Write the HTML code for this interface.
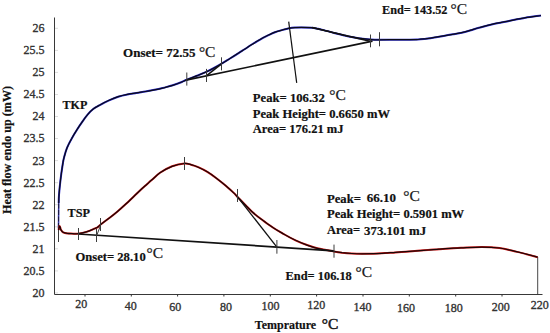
<!DOCTYPE html>
<html><head><meta charset="utf-8"><title>DSC thermogram</title>
<style>
html,body{margin:0;padding:0;background:#fff;}
body{width:550px;height:333px;overflow:hidden;}
svg{display:block;font-family:"Liberation Serif",serif;}
.b{font-weight:bold;font-size:12.5px;fill:#111;stroke:#111;stroke-width:0.2;}
.t{font-size:12px;fill:#333;stroke:#333;stroke-width:0.35;}
.c{font-size:15.5px;fill:#1a1a1a;font-weight:normal;stroke:#1a1a1a;stroke-width:0.25;}
.k{stroke:#111;stroke-width:1.5;fill:none;}
.tk{stroke:#3c3c3c;stroke-width:1;fill:none;}
</style></head><body>
<svg width="550" height="333" viewBox="0 0 550 333">
<rect width="550" height="333" fill="#fff"/>
<path d="M54.5 17.5V294.5H542.5" stroke="#383838" stroke-width="1" fill="none"/>
<path d="M85.0 294.5v2" stroke="#333" stroke-width="1" fill="none"/>
<text class="t" x="81.3" y="307.7" text-anchor="middle">20</text>
<path d="M131.3 294.5v2" stroke="#333" stroke-width="1" fill="none"/>
<text class="t" x="130.8" y="310.2" text-anchor="middle">40</text>
<path d="M177.6 294.5v2" stroke="#333" stroke-width="1" fill="none"/>
<text class="t" x="175.3" y="310.7" text-anchor="middle">60</text>
<path d="M223.9 294.5v2" stroke="#333" stroke-width="1" fill="none"/>
<text class="t" x="226.0" y="310.7" text-anchor="middle">80</text>
<path d="M270.3 294.5v2" stroke="#333" stroke-width="1" fill="none"/>
<text class="t" x="270.4" y="309.8" text-anchor="middle">100</text>
<path d="M316.6 294.5v2" stroke="#333" stroke-width="1" fill="none"/>
<text class="t" x="316.2" y="309.0" text-anchor="middle">120</text>
<path d="M363.0 294.5v2" stroke="#333" stroke-width="1" fill="none"/>
<text class="t" x="362.5" y="311.0" text-anchor="middle">140</text>
<path d="M409.3 294.5v2" stroke="#333" stroke-width="1" fill="none"/>
<text class="t" x="406.0" y="311.5" text-anchor="middle">160</text>
<path d="M455.7 294.5v2" stroke="#333" stroke-width="1" fill="none"/>
<text class="t" x="453.8" y="312.3" text-anchor="middle">180</text>
<path d="M502.0 294.5v2" stroke="#333" stroke-width="1" fill="none"/>
<text class="t" x="500.8" y="310.6" text-anchor="middle">200</text>
<text class="t" x="539.8" y="309.0" text-anchor="middle">220</text>
<text class="t" x="44.5" y="32.2" text-anchor="end">26</text>
<path d="M55 28.3h3" stroke="#dcdcdc" stroke-width="1"/>
<text class="t" x="44.5" y="54.2" text-anchor="end">25.5</text>
<path d="M55 50.4h3" stroke="#dcdcdc" stroke-width="1"/>
<text class="t" x="44.5" y="76.3" text-anchor="end">25</text>
<path d="M55 72.4h3" stroke="#dcdcdc" stroke-width="1"/>
<text class="t" x="44.5" y="98.4" text-anchor="end">24.5</text>
<path d="M55 94.5h3" stroke="#dcdcdc" stroke-width="1"/>
<text class="t" x="44.5" y="120.4" text-anchor="end">24</text>
<path d="M55 116.5h3" stroke="#dcdcdc" stroke-width="1"/>
<text class="t" x="44.5" y="142.4" text-anchor="end">23.5</text>
<path d="M55 138.5h3" stroke="#dcdcdc" stroke-width="1"/>
<text class="t" x="44.5" y="164.5" text-anchor="end">23</text>
<path d="M55 160.6h3" stroke="#dcdcdc" stroke-width="1"/>
<text class="t" x="44.5" y="186.6" text-anchor="end">22.5</text>
<path d="M55 182.7h3" stroke="#dcdcdc" stroke-width="1"/>
<text class="t" x="44.5" y="208.6" text-anchor="end">22</text>
<path d="M55 204.7h3" stroke="#dcdcdc" stroke-width="1"/>
<text class="t" x="44.5" y="230.7" text-anchor="end">21.5</text>
<path d="M55 226.8h3" stroke="#dcdcdc" stroke-width="1"/>
<text class="t" x="44.5" y="252.7" text-anchor="end">21</text>
<path d="M55 248.8h3" stroke="#dcdcdc" stroke-width="1"/>
<text class="t" x="44.5" y="274.8" text-anchor="end">20.5</text>
<path d="M55 270.9h3" stroke="#dcdcdc" stroke-width="1"/>
<text class="t" x="44.5" y="296.8" text-anchor="end">20</text>
<path d="M55 292.9h3" stroke="#dcdcdc" stroke-width="1"/>
<text class="b" transform="translate(10.9 213.9) rotate(-90)" textLength="128" lengthAdjust="spacingAndGlyphs">Heat flow endo up (mW)</text>
<text class="b" style="font-size:13px" x="254.8" y="328.9" textLength="61.4" lengthAdjust="spacingAndGlyphs">Temprature</text><text class="c" style="stroke-width:0.5" x="321.8" y="328.8">°C</text>
<path d="M58.5 220V242" stroke="#3a3a3a" stroke-width="1"/><path d="M58.5 228L58.7 203" stroke="#3434b0" stroke-width="1.5"/><path d="M58.5 228L58.7 203" stroke="#16162c" stroke-width="0.9" stroke-dasharray="5 1.5"/>
<path d="M537.7 257V294.5" stroke="#333" stroke-width="0.9"/>
<path d="M58.7 203.0 C58.8 201.7 58.7 198.8 59.0 195.0 C59.3 191.2 59.9 185.0 60.5 180.0 C61.1 175.0 62.0 168.7 62.6 165.0 C63.2 161.3 63.2 160.6 64.0 157.7 C64.8 154.8 65.8 150.9 67.1 147.7 C68.4 144.5 69.9 141.7 71.6 138.7 C73.2 135.7 75.2 132.5 77.0 129.7 C78.8 126.8 80.6 124.1 82.4 121.6 C84.2 119.0 86.0 116.5 87.8 114.4 C89.6 112.3 91.1 110.6 93.2 109.0 C95.3 107.4 97.7 106.2 100.3 104.8 C102.9 103.3 106.1 101.6 109.1 100.3 C112.1 99.0 115.2 97.7 118.2 96.7 C121.2 95.7 124.3 95.0 127.3 94.4 C130.3 93.8 133.4 93.4 136.4 92.9 C139.4 92.4 142.5 92.0 145.5 91.5 C148.5 91.0 151.5 90.4 154.5 89.8 C157.5 89.2 160.6 88.5 163.6 87.8 C166.6 87.0 169.7 86.3 172.7 85.3 C175.7 84.3 179.5 82.9 181.8 82.0 C184.1 81.1 184.1 80.8 186.6 79.8 C189.1 78.8 193.7 77.0 197.0 75.7 C200.3 74.4 203.5 73.2 206.3 71.9 C209.1 70.6 211.4 69.4 214.0 68.0 C216.6 66.6 218.9 65.3 221.6 63.7 C224.3 62.1 227.1 60.3 230.0 58.5 C232.9 56.7 236.5 54.4 239.0 52.8 C241.5 51.2 243.0 50.3 245.0 49.0 C247.0 47.7 249.0 46.3 251.0 45.0 C253.0 43.7 255.0 42.5 257.0 41.3 C259.0 40.1 261.0 38.9 263.0 37.8 C265.0 36.7 267.0 35.7 269.0 34.8 C271.0 33.9 272.7 33.0 275.0 32.2 C277.3 31.4 280.2 30.6 282.6 29.9 C285.0 29.2 287.2 28.6 289.3 28.2 C291.4 27.8 293.0 27.7 295.0 27.6 C297.0 27.5 298.5 27.4 301.3 27.4 C304.1 27.4 309.0 27.5 311.8 27.7 C314.6 27.9 315.6 28.3 318.0 28.8 C320.4 29.3 323.6 30.2 326.4 30.9 C329.2 31.6 332.0 32.4 335.0 33.2 C338.0 34.0 341.5 34.8 344.5 35.5 C347.5 36.2 350.0 36.7 353.0 37.2 C356.0 37.7 359.7 38.3 362.7 38.7 C365.7 39.1 368.2 39.4 371.0 39.6 C373.8 39.8 375.6 39.8 379.6 39.8 C383.6 39.8 389.9 39.7 395.0 39.7 C400.1 39.7 406.2 39.7 410.0 39.7 C413.8 39.7 415.4 39.6 418.0 39.5 C420.6 39.4 422.8 39.1 425.5 38.8 C428.2 38.4 431.5 37.9 434.5 37.4 C437.5 36.9 440.6 36.4 443.6 35.9 C446.6 35.4 449.7 34.8 452.7 34.3 C455.7 33.8 458.8 33.4 461.8 32.7 C464.8 32.0 467.9 31.1 470.9 30.2 C473.9 29.3 476.4 28.5 480.0 27.5 C483.6 26.5 487.8 25.3 492.7 24.2 C497.6 23.1 503.6 22.0 509.1 20.9 C514.6 19.8 520.2 18.6 525.5 17.7 C530.8 16.8 538.4 15.9 541.0 15.5" stroke="#2a2ac8" stroke-width="2" fill="none"/>
<path d="M58.7 203.0 C58.8 201.7 58.7 198.8 59.0 195.0 C59.3 191.2 59.9 185.0 60.5 180.0 C61.1 175.0 62.0 168.7 62.6 165.0 C63.2 161.3 63.2 160.6 64.0 157.7 C64.8 154.8 65.8 150.9 67.1 147.7 C68.4 144.5 69.9 141.7 71.6 138.7 C73.2 135.7 75.2 132.5 77.0 129.7 C78.8 126.8 80.6 124.1 82.4 121.6 C84.2 119.0 86.0 116.5 87.8 114.4 C89.6 112.3 91.1 110.6 93.2 109.0 C95.3 107.4 97.7 106.2 100.3 104.8 C102.9 103.3 106.1 101.6 109.1 100.3 C112.1 99.0 115.2 97.7 118.2 96.7 C121.2 95.7 124.3 95.0 127.3 94.4 C130.3 93.8 133.4 93.4 136.4 92.9 C139.4 92.4 142.5 92.0 145.5 91.5 C148.5 91.0 151.5 90.4 154.5 89.8 C157.5 89.2 160.6 88.5 163.6 87.8 C166.6 87.0 169.7 86.3 172.7 85.3 C175.7 84.3 179.5 82.9 181.8 82.0 C184.1 81.1 184.1 80.8 186.6 79.8 C189.1 78.8 193.7 77.0 197.0 75.7 C200.3 74.4 203.5 73.2 206.3 71.9 C209.1 70.6 211.4 69.4 214.0 68.0 C216.6 66.6 218.9 65.3 221.6 63.7 C224.3 62.1 227.1 60.3 230.0 58.5 C232.9 56.7 236.5 54.4 239.0 52.8 C241.5 51.2 243.0 50.3 245.0 49.0 C247.0 47.7 249.0 46.3 251.0 45.0 C253.0 43.7 255.0 42.5 257.0 41.3 C259.0 40.1 261.0 38.9 263.0 37.8 C265.0 36.7 267.0 35.7 269.0 34.8 C271.0 33.9 272.7 33.0 275.0 32.2 C277.3 31.4 280.2 30.6 282.6 29.9 C285.0 29.2 287.2 28.6 289.3 28.2 C291.4 27.8 293.0 27.7 295.0 27.6 C297.0 27.5 298.5 27.4 301.3 27.4 C304.1 27.4 309.0 27.5 311.8 27.7 C314.6 27.9 315.6 28.3 318.0 28.8 C320.4 29.3 323.6 30.2 326.4 30.9 C329.2 31.6 332.0 32.4 335.0 33.2 C338.0 34.0 341.5 34.8 344.5 35.5 C347.5 36.2 350.0 36.7 353.0 37.2 C356.0 37.7 359.7 38.3 362.7 38.7 C365.7 39.1 368.2 39.4 371.0 39.6 C373.8 39.8 375.6 39.8 379.6 39.8 C383.6 39.8 389.9 39.7 395.0 39.7 C400.1 39.7 406.2 39.7 410.0 39.7 C413.8 39.7 415.4 39.6 418.0 39.5 C420.6 39.4 422.8 39.1 425.5 38.8 C428.2 38.4 431.5 37.9 434.5 37.4 C437.5 36.9 440.6 36.4 443.6 35.9 C446.6 35.4 449.7 34.8 452.7 34.3 C455.7 33.8 458.8 33.4 461.8 32.7 C464.8 32.0 467.9 31.1 470.9 30.2 C473.9 29.3 476.4 28.5 480.0 27.5 C483.6 26.5 487.8 25.3 492.7 24.2 C497.6 23.1 503.6 22.0 509.1 20.9 C514.6 19.8 520.2 18.6 525.5 17.7 C530.8 16.8 538.4 15.9 541.0 15.5" stroke="#0a0a18" stroke-width="1.25" fill="none"/>
<path d="M58.6 230.0 C58.7 229.6 58.8 228.2 59.0 227.5 C59.2 226.8 59.4 226.0 59.6 226.0 C59.8 226.0 60.0 226.7 60.2 227.3 C60.4 227.9 60.4 228.9 60.9 229.7 C61.4 230.5 62.0 231.7 63.1 232.3 C64.2 232.9 65.8 233.2 67.5 233.4 C69.2 233.6 71.2 233.6 73.0 233.7 C74.8 233.8 76.2 234.0 78.4 233.7 C80.6 233.4 83.9 232.7 86.4 231.9 C88.9 231.1 91.8 229.8 93.6 229.0 C95.4 228.2 96.3 228.1 97.5 227.3 C98.7 226.5 98.9 225.9 101.0 224.3 C103.1 222.7 107.2 219.6 110.0 217.5 C112.8 215.4 115.0 213.6 117.5 211.5 C120.0 209.4 122.5 207.1 125.0 204.8 C127.5 202.5 130.0 200.1 132.5 197.7 C135.0 195.3 137.5 192.8 140.0 190.5 C142.5 188.2 145.5 185.6 147.5 183.8 C149.5 182.0 149.9 181.6 152.0 179.8 C154.1 178.0 156.7 175.1 160.0 172.8 C163.3 170.6 168.0 167.9 172.1 166.3 C176.2 164.8 181.2 163.8 184.4 163.5 C187.6 163.2 188.7 164.1 191.0 164.7 C193.3 165.3 195.5 166.0 198.2 167.2 C200.9 168.4 204.3 170.0 207.3 171.8 C210.3 173.6 213.4 175.9 216.4 178.2 C219.4 180.5 222.5 182.9 225.5 185.5 C228.5 188.1 232.5 191.7 234.5 193.6 C236.5 195.5 234.4 193.7 237.3 196.7 C240.2 199.7 247.6 207.6 251.8 211.5 C256.0 215.4 259.1 217.6 262.7 220.3 C266.3 223.1 270.0 225.6 273.6 228.0 C277.2 230.4 280.9 232.4 284.5 234.5 C288.1 236.6 291.9 238.6 295.5 240.3 C299.1 242.0 302.8 243.5 306.4 244.8 C310.0 246.1 312.8 247.2 317.3 248.3 C321.8 249.4 329.5 250.7 333.6 251.4 C337.7 252.1 339.0 252.3 342.0 252.7 C345.0 253.0 348.5 253.3 351.8 253.5 C355.1 253.7 358.4 253.8 362.0 253.8 C365.6 253.8 369.8 253.8 373.6 253.7 C377.4 253.6 381.4 253.3 385.0 253.1 C388.6 252.9 392.0 252.6 395.5 252.4 C399.0 252.2 402.4 252.0 406.0 251.7 C409.6 251.4 413.6 251.1 417.3 250.8 C421.0 250.5 424.4 250.3 428.0 250.0 C431.6 249.7 435.3 249.5 439.0 249.2 C442.7 248.9 446.3 248.6 450.0 248.4 C453.7 248.2 455.8 248.0 461.0 247.8 C466.2 247.6 475.1 247.0 481.5 247.0 C487.9 247.0 493.4 247.2 499.4 248.0 C505.4 248.8 510.9 250.4 517.3 251.9 C523.7 253.4 534.3 256.3 537.7 257.2" stroke="#d41818" stroke-width="2" fill="none"/>
<path d="M58.6 230.0 C58.7 229.6 58.8 228.2 59.0 227.5 C59.2 226.8 59.4 226.0 59.6 226.0 C59.8 226.0 60.0 226.7 60.2 227.3 C60.4 227.9 60.4 228.9 60.9 229.7 C61.4 230.5 62.0 231.7 63.1 232.3 C64.2 232.9 65.8 233.2 67.5 233.4 C69.2 233.6 71.2 233.6 73.0 233.7 C74.8 233.8 76.2 234.0 78.4 233.7 C80.6 233.4 83.9 232.7 86.4 231.9 C88.9 231.1 91.8 229.8 93.6 229.0 C95.4 228.2 96.3 228.1 97.5 227.3 C98.7 226.5 98.9 225.9 101.0 224.3 C103.1 222.7 107.2 219.6 110.0 217.5 C112.8 215.4 115.0 213.6 117.5 211.5 C120.0 209.4 122.5 207.1 125.0 204.8 C127.5 202.5 130.0 200.1 132.5 197.7 C135.0 195.3 137.5 192.8 140.0 190.5 C142.5 188.2 145.5 185.6 147.5 183.8 C149.5 182.0 149.9 181.6 152.0 179.8 C154.1 178.0 156.7 175.1 160.0 172.8 C163.3 170.6 168.0 167.9 172.1 166.3 C176.2 164.8 181.2 163.8 184.4 163.5 C187.6 163.2 188.7 164.1 191.0 164.7 C193.3 165.3 195.5 166.0 198.2 167.2 C200.9 168.4 204.3 170.0 207.3 171.8 C210.3 173.6 213.4 175.9 216.4 178.2 C219.4 180.5 222.5 182.9 225.5 185.5 C228.5 188.1 232.5 191.7 234.5 193.6 C236.5 195.5 234.4 193.7 237.3 196.7 C240.2 199.7 247.6 207.6 251.8 211.5 C256.0 215.4 259.1 217.6 262.7 220.3 C266.3 223.1 270.0 225.6 273.6 228.0 C277.2 230.4 280.9 232.4 284.5 234.5 C288.1 236.6 291.9 238.6 295.5 240.3 C299.1 242.0 302.8 243.5 306.4 244.8 C310.0 246.1 312.8 247.2 317.3 248.3 C321.8 249.4 329.5 250.7 333.6 251.4 C337.7 252.1 339.0 252.3 342.0 252.7 C345.0 253.0 348.5 253.3 351.8 253.5 C355.1 253.7 358.4 253.8 362.0 253.8 C365.6 253.8 369.8 253.8 373.6 253.7 C377.4 253.6 381.4 253.3 385.0 253.1 C388.6 252.9 392.0 252.6 395.5 252.4 C399.0 252.2 402.4 252.0 406.0 251.7 C409.6 251.4 413.6 251.1 417.3 250.8 C421.0 250.5 424.4 250.3 428.0 250.0 C431.6 249.7 435.3 249.5 439.0 249.2 C442.7 248.9 446.3 248.6 450.0 248.4 C453.7 248.2 455.8 248.0 461.0 247.8 C466.2 247.6 475.1 247.0 481.5 247.0 C487.9 247.0 493.4 247.2 499.4 248.0 C505.4 248.8 510.9 250.4 517.3 251.9 C523.7 253.4 534.3 256.3 537.7 257.2" stroke="#1a0606" stroke-width="1.25" fill="none"/>
<path class="k" style="stroke-width:1.6" d="M186 80.1L372.5 41.1"/>
<path class="k" d="M206.3 75.9L221.5 63.8"/>
<path class="k" d="M311.8 27.6L371 41.5"/>
<path class="k" style="stroke-width:1.2" d="M288.7 21.7L296.7 82.8"/>
<path class="tk" d="M186.8 72.5V85.6"/>
<path class="tk" d="M206.5 68.9V82.0"/>
<path class="tk" d="M221.5 57.3V70.4"/>
<path class="tk" d="M370.5 34.5V47.3"/>
<path class="tk" d="M379.5 32.2V46.3"/>
<path class="k" style="stroke-width:1.7" d="M78 234L333.7 250.8"/>
<path class="k" style="stroke-width:1.3" d="M237.1 196.3L276.9 247.2"/>
<path class="tk" d="M96.5 236L100.5 225.5"/>
<path class="tk" d="M78.5 228.0V240.0"/>
<path class="tk" d="M96.5 229.0V242.0"/>
<path class="tk" d="M100.5 218.0V231.0"/>
<path class="tk" d="M184.5 157.0V170.0"/>
<path class="tk" d="M237.5 189.0V202.0"/>
<path class="tk" d="M276.9 240.0V253.7"/>
<path class="tk" d="M334.0 244.6V257.7"/>
<text class="b" x="62.5" y="108.5" textLength="24.8" lengthAdjust="spacingAndGlyphs">TKP</text>
<text class="b" x="67.6" y="216.6" textLength="22.4" lengthAdjust="spacingAndGlyphs">TSP</text>
<text class="b" x="123.0" y="57.0" textLength="72.6" lengthAdjust="spacingAndGlyphs">Onset= 72.55</text><text class="c" x="198.9" y="56.8">°C</text>
<text class="b" x="382.0" y="13.7" textLength="65.5" lengthAdjust="spacingAndGlyphs">End= 143.52</text><text class="c" x="450.6" y="13.9">°C</text>
<text class="b" x="252.8" y="102.3" textLength="72.0" lengthAdjust="spacingAndGlyphs">Peak= 106.32</text><text class="c" x="329.2" y="100.0">°C</text>
<text class="b" x="252.8" y="117.6" textLength="137.2" lengthAdjust="spacingAndGlyphs">Peak Height= 0.6650 mW</text>
<text class="b" x="252.8" y="132.6" textLength="90.7" lengthAdjust="spacingAndGlyphs">Area= 176.21 mJ</text>
<text class="b" x="327.0" y="202.5" textLength="34.0" lengthAdjust="spacingAndGlyphs">Peak=</text>
<text class="b" x="366.8" y="201.7" textLength="29.2" lengthAdjust="spacingAndGlyphs">66.10</text><text class="c" x="403.2" y="201.0">°C</text>
<text class="b" x="327.0" y="218.3" textLength="137.2" lengthAdjust="spacingAndGlyphs">Peak Height= 0.5901 mW</text>
<text class="b" x="327.0" y="234.2" textLength="33.0" lengthAdjust="spacingAndGlyphs">Area=</text>
<text class="b" x="364.1" y="235.0" textLength="62.0" lengthAdjust="spacingAndGlyphs">373.101 mJ</text>
<text class="b" x="75.4" y="260.6" textLength="70.3" lengthAdjust="spacingAndGlyphs">Onset= 28.10</text><text class="c" x="146.6" y="258.2">°C</text>
<text class="b" x="285.6" y="279.6" textLength="66.2" lengthAdjust="spacingAndGlyphs">End= 106.18</text><text class="c" x="355.5" y="276.9">°C</text>
</svg></body></html>
